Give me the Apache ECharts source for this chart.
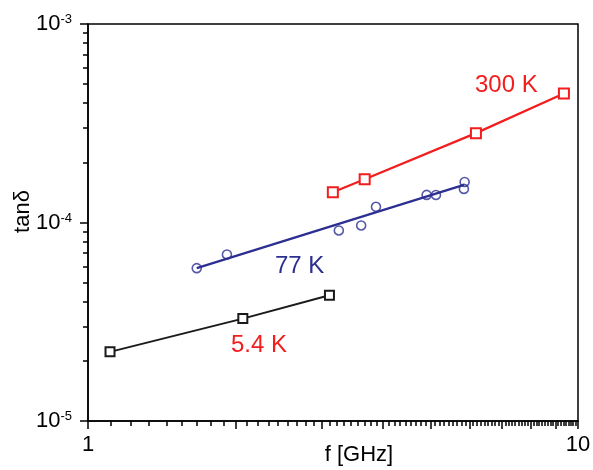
<!DOCTYPE html>
<html>
<head>
<meta charset="utf-8">
<script src="https://cdn.jsdelivr.net/npm/echarts@6/dist/echarts.min.js"></script>
<style>html,body{margin:0;padding:0;background:#fff}#c{width:593px;height:470px}</style>
</head>
<body>
<div id="c"></div>
<script>
// ---- data ----
const f54 = [1.109, 2.07, 3.11];
const tan54 = [2.23e-5, 3.28e-5, 4.30e-5];
const f77 = [1.667, 1.921, 3.25, 3.61, 3.87, 4.91, 5.13, 5.85, 5.87];
const tan77 = [5.89e-5, 6.90e-5, 9.12e-5, 9.66e-5, 1.20e-4, 1.377e-4, 1.376e-4, 1.477e-4, 1.60e-4];
const f77fit = [1.667, 5.85];
const tan77fit = [5.89e-5, 1.547e-4];
const f300 = [3.16, 3.67, 6.19, 9.36];
const tan300 = [1.42e-4, 1.65e-4, 2.82e-4, 4.46e-4];
const xLabelVals = [1, 10];
const yLabelExps = [-5, -4, -3];
const seriesNames = ['5.4 K', '77 K', '300 K'];

// ---- ticks ----
const xMajor = [1,2,3,4,5,6,7,8,9,10];
const xMinor = [];
for (let m = 1; m < 10; m++) for (let k = 1; k <= 8; k++) xMinor.push(m + k / 9);
const yMajor = yLabelExps.map(e => Math.pow(10, e));
const yMinor = [];
[-5, -4].forEach(e => { for (let k = 2; k <= 9; k++) yMinor.push(k * Math.pow(10, e)); });

const zip = (a, b) => a.map((v, i) => [v, b[i]]);
const FONT = 'Liberation Sans, Arial, sans-serif';
const RED = '#f21d1d', BLUE = '#2b2f91', BLACK = '#1a1a1a';

const gridBox = {left: 88, right: 15, top: 24, bottom: 49, containLabel: false, outerBoundsMode: 'none'};
const chart = echarts.init(document.getElementById('c'), null, {renderer: 'canvas'});
chart.setOption({
  animation: false,
  backgroundColor: '#fff',
  textStyle: {fontFamily: FONT},
  grid: [
    Object.assign({show: true, borderColor: '#000', borderWidth: 1.5, backgroundColor: 'transparent'}, gridBox),
    Object.assign({show: false}, gridBox)
  ],
  xAxis: [
    {gridIndex: 0, type: 'log', logBase: 10, min: 1, max: 10,
     axisLine: {lineStyle: {color: '#000', width: 1.5}},
     axisTick: {customValues: xMinor, length: 5, lineStyle: {color: '#000', width: 1.5}},
     axisLabel: {customValues: xLabelVals, fontSize: 22, color: '#000', margin: 13, fontFamily: FONT,
       showMinLabel: true, showMaxLabel: true, hideOverlap: false},
     splitLine: {show: false}, minorTick: {show: false},
     name: 'f [GHz]', nameLocation: 'middle', nameGap: 23, nameMoveOverlap: false,
     nameTextStyle: {fontSize: 22, color: '#000', fontFamily: FONT, verticalAlign: 'top', padding: [0, 0, 0, 52]}},
    {gridIndex: 1, type: 'log', logBase: 10, min: 1, max: 10,
     axisLine: {show: false},
     axisTick: {customValues: xMajor, length: 8, lineStyle: {color: '#000', width: 1.5}},
     axisLabel: {show: false}, splitLine: {show: false}}
  ],
  yAxis: [
    {gridIndex: 0, type: 'log', logBase: 10, min: 1e-5, max: 1e-3,
     axisLine: {lineStyle: {color: '#000', width: 1.5}},
     axisTick: {customValues: yMinor, length: 5, lineStyle: {color: '#000', width: 1.5}},
     axisLabel: {customValues: yMajor, margin: 16, color: '#000', fontFamily: FONT,
       showMinLabel: true, showMaxLabel: true, hideOverlap: false,
       formatter: v => '{b|10}{s|' + Math.round(Math.log10(v)) + '}',
       rich: {b: {fontSize: 22, color: '#000', fontFamily: FONT},
              s: {fontSize: 13, color: '#000', fontFamily: FONT, verticalAlign: 'top', padding: [0, 0, 9, 0]}}},
     splitLine: {show: false},
     name: 'tanδ', nameLocation: 'middle', nameGap: 54, nameMoveOverlap: false,
     nameTextStyle: {fontSize: 22, color: '#000', fontFamily: FONT, padding: [0, 0, 0, 22]}},
    {gridIndex: 1, type: 'log', logBase: 10, min: 1e-5, max: 1e-3,
     axisLine: {show: false},
     axisTick: {customValues: yMajor, length: 8, lineStyle: {color: '#000', width: 1.5}},
     axisLabel: {show: false}, splitLine: {show: false}}
  ],
  series: [
    {name: seriesNames[0], type: 'line', xAxisIndex: 0, yAxisIndex: 0, data: zip(f54, tan54),
     symbol: 'emptyRect', symbolSize: 9, lineStyle: {color: BLACK, width: 2},
     itemStyle: {color: BLACK, borderWidth: 1.5}},
    {name: seriesNames[1] + ' fit', type: 'line', xAxisIndex: 0, yAxisIndex: 0, data: zip(f77fit, tan77fit),
     symbol: 'none', lineStyle: {color: BLUE, width: 2.2}},
    {name: seriesNames[1], type: 'scatter', xAxisIndex: 0, yAxisIndex: 0, data: zip(f77, tan77),
     symbol: 'circle', symbolSize: 9,
     itemStyle: {color: 'rgba(0,0,0,0)', borderColor: BLUE, borderWidth: 1.6}},
    {name: seriesNames[2], type: 'line', xAxisIndex: 0, yAxisIndex: 0, data: zip(f300, tan300),
     symbol: 'emptyRect', symbolSize: 10, lineStyle: {color: RED, width: 2.2},
     itemStyle: {color: RED, borderWidth: 1.5}}
  ],
  graphic: [
    {type: 'text', left: 475, top: 73, style: {text: '300 K', fontSize: 24, fill: RED, fontFamily: FONT}},
    {type: 'text', left: 275, top: 254, style: {text: '77 K', fontSize: 24, fill: BLUE, fontFamily: FONT}},
    {type: 'text', left: 231, top: 333, style: {text: '5.4 K', fontSize: 24, fill: RED, fontFamily: FONT}}
  ]
});
</script>
</body>
</html>
